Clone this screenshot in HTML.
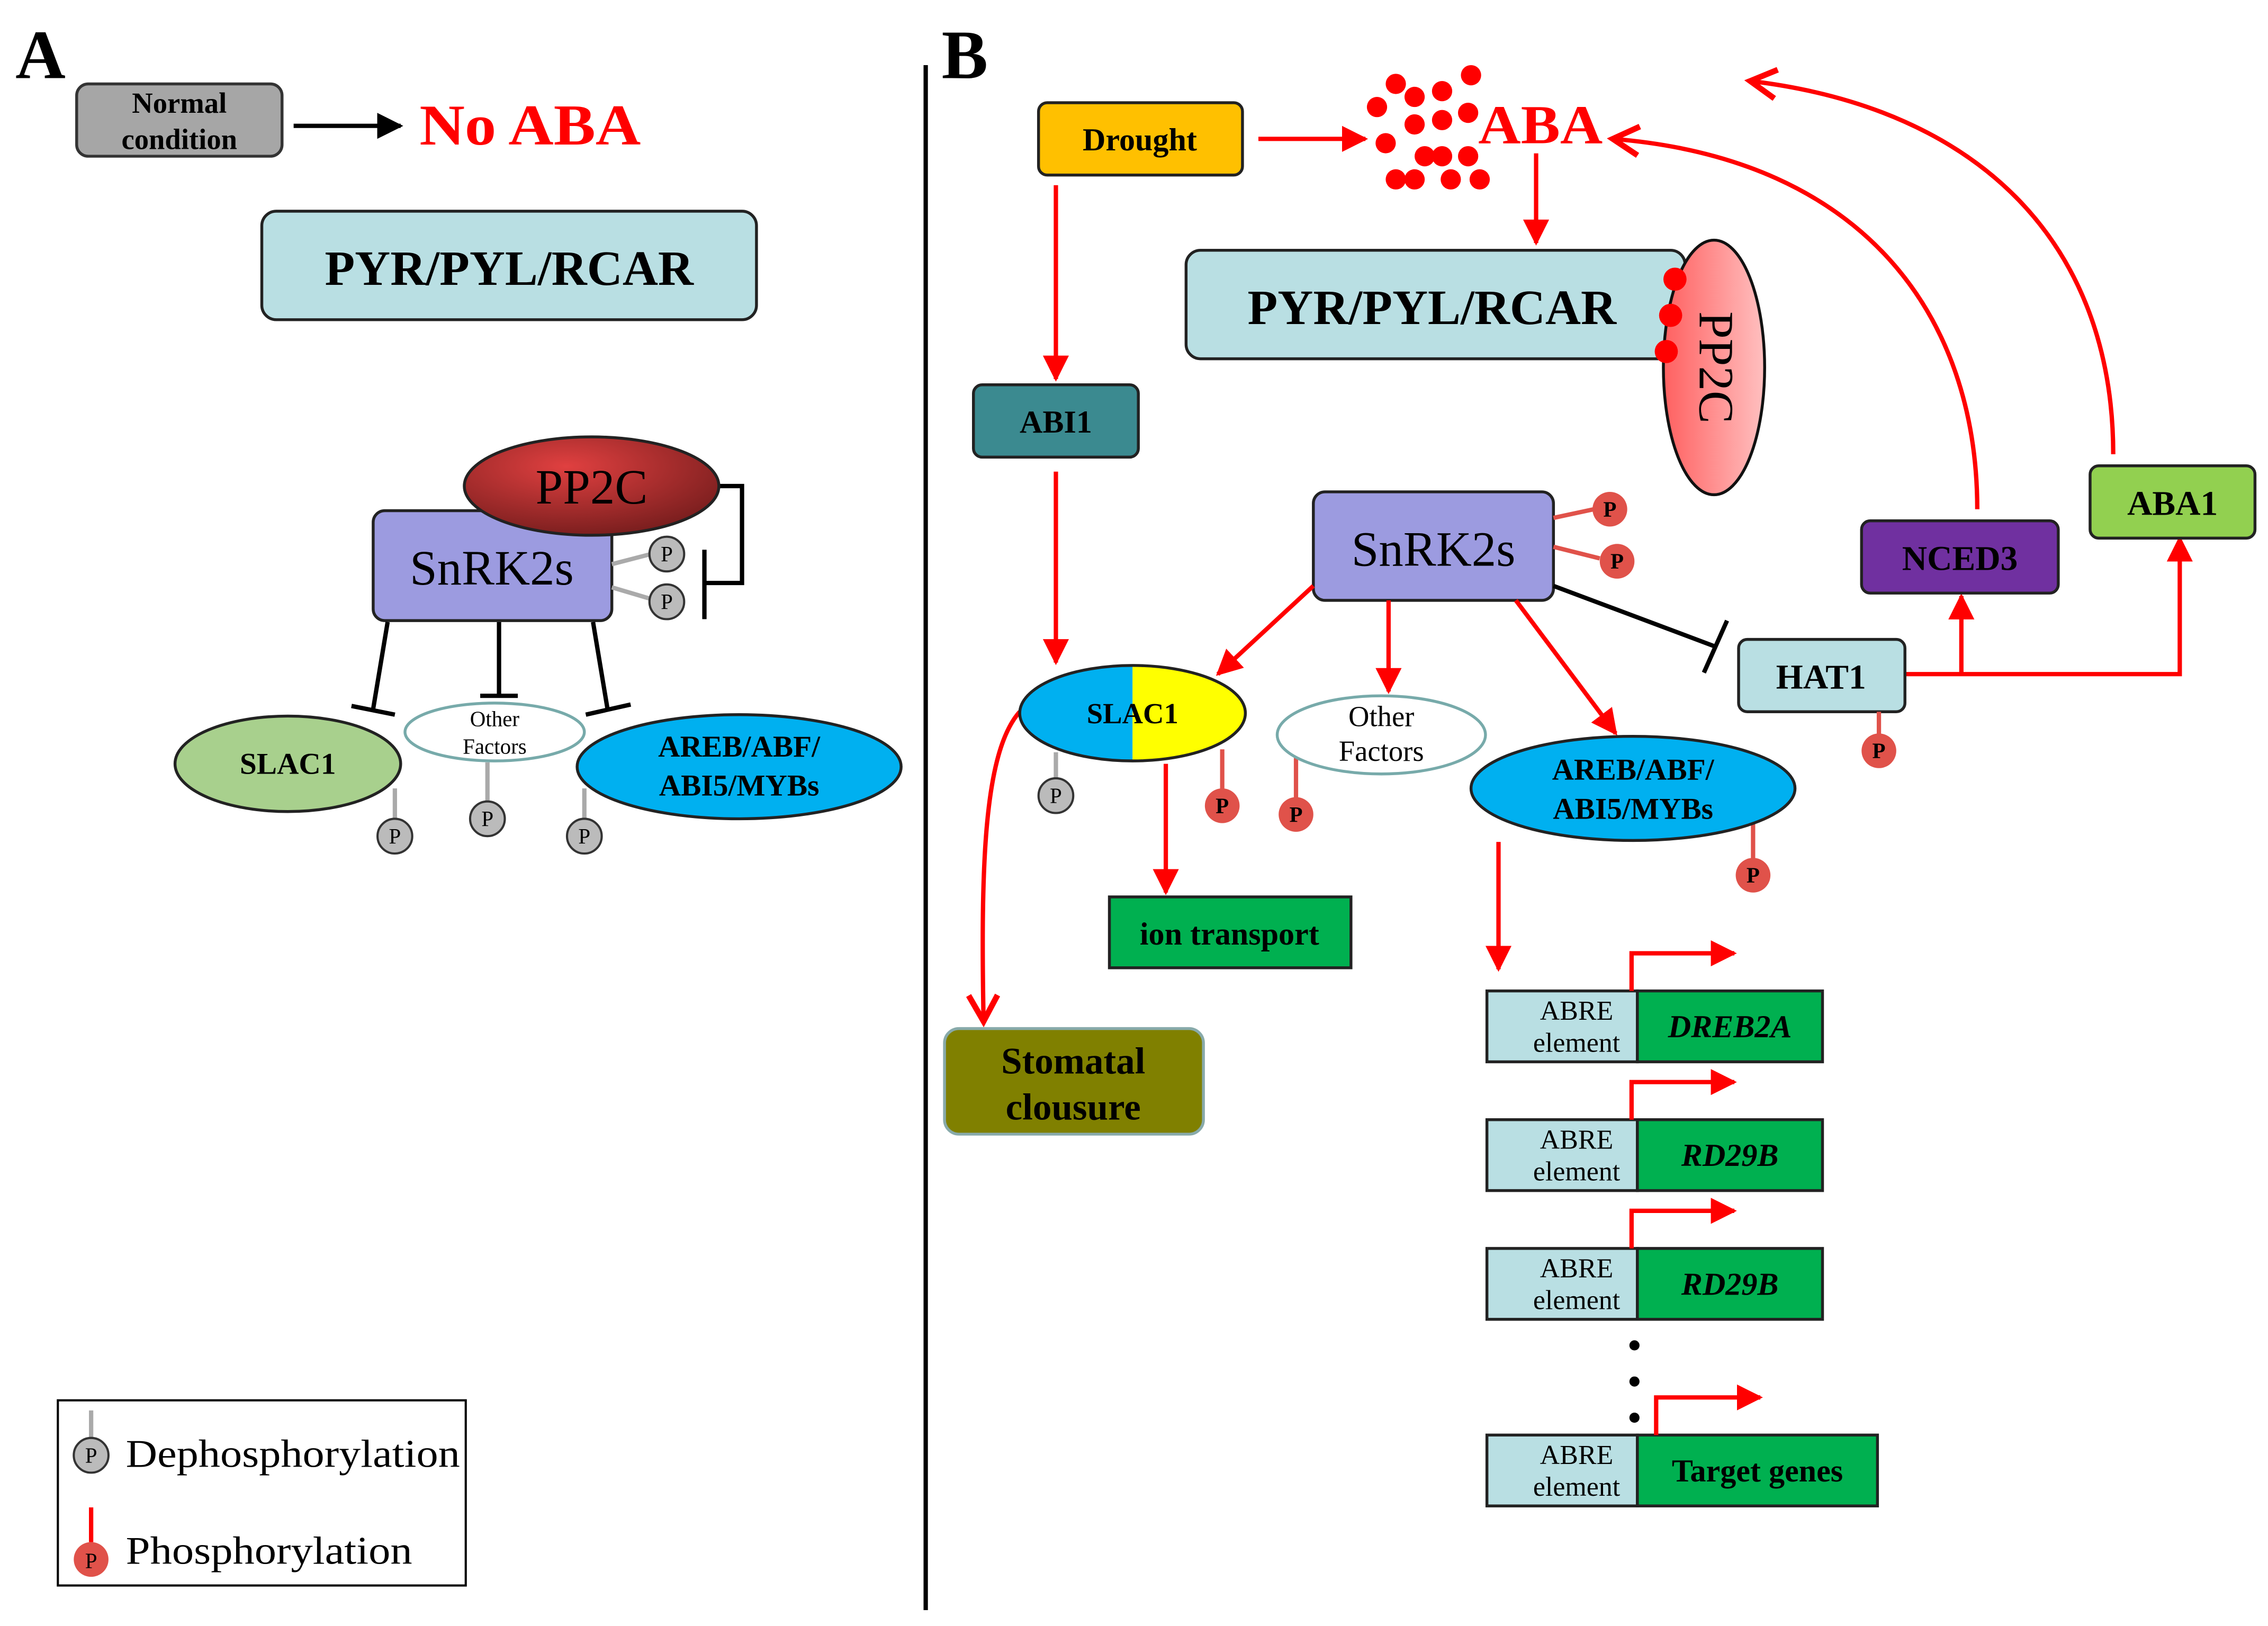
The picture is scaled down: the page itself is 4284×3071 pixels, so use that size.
<!DOCTYPE html>
<html><head><meta charset="utf-8"><style>html,body{margin:0;padding:0;background:#fff}svg{display:block}text{font-family:"Liberation Serif",serif}</style></head>
<body>
<svg width="4284" height="3071" viewBox="0 0 1568 1124" preserveAspectRatio="none" xmlns="http://www.w3.org/2000/svg">
<defs>
<marker id="ar" viewBox="0 0 10 10" refX="9" refY="5" markerWidth="6" markerHeight="6" orient="auto"><path d="M0,0 L10,5 L0,10 z" fill="red"/></marker>
<marker id="arl" viewBox="0 0 12 12" refX="10" refY="6" markerWidth="8" markerHeight="8" orient="auto"><path d="M1,1 L10,6 L1,11" fill="none" stroke="red" stroke-width="2"/></marker>
<marker id="ak" viewBox="0 0 10 10" refX="9" refY="5" markerWidth="6" markerHeight="6" orient="auto"><path d="M0,0 L10,5 L0,10 z" fill="#000"/></marker>
<radialGradient id="pp2cA" cx="0.4" cy="0.3" r="0.8"><stop offset="0" stop-color="#e04040"/><stop offset="1" stop-color="#6e1a1a"/></radialGradient>
<linearGradient id="pp2cB" x1="0" x2="1"><stop offset="0" stop-color="#ff6060"/><stop offset="1" stop-color="#ffc0c0"/></linearGradient>
</defs>
<g font-weight="bold" text-anchor="middle">
<!-- Panel A -->
<text x="28" y="54" font-size="48" text-anchor="middle">A</text>
<rect x="53" y="58" width="142" height="50" rx="8" fill="#a6a6a6" stroke="#333" stroke-width="2"/>
<text x="124" y="78" font-size="20">Normal</text><text x="124" y="103" font-size="20">condition</text>
<line x1="203" y1="87" x2="277" y2="87" stroke="#000" stroke-width="3" marker-end="url(#ak)"/>
<text x="290" y="100" font-size="40" fill="red" text-anchor="start" textLength="153" lengthAdjust="spacingAndGlyphs">No ABA</text>
<rect x="181" y="146" width="342" height="75" rx="10" fill="#b9dfe3" stroke="#222" stroke-width="2"/>
<text x="352" y="197" font-size="34">PYR/PYL/RCAR</text>
<polyline points="497,336 513,336 513,403 487,403" fill="none" stroke="#000" stroke-width="3"/>
<line x1="487" y1="380" x2="487" y2="428" stroke="#000" stroke-width="3"/>
<rect x="258" y="353" width="165" height="76" rx="8" fill="#9c9be0" stroke="#222" stroke-width="2"/>
<ellipse cx="409" cy="336" rx="88" ry="34" fill="url(#pp2cA)" stroke="#222" stroke-width="2"/>
<text x="409" y="348" font-size="34" font-weight="normal">PP2C</text>
<text x="340" y="404" font-size="34" font-weight="normal">SnRK2s</text>
<g stroke="#aaa" stroke-width="3"><line x1="423" y1="390" x2="450" y2="383"/><line x1="423" y1="406" x2="450" y2="414"/>
<line x1="273" y1="545" x2="273" y2="567"/><line x1="337" y1="527" x2="337" y2="555"/><line x1="404" y1="545" x2="404" y2="567"/></g>
<g stroke="#000" stroke-width="3">
<line x1="268" y1="430" x2="258" y2="490"/><line x1="243" y1="488" x2="273" y2="494"/>
<line x1="345" y1="430" x2="345" y2="481"/><line x1="332" y1="481" x2="358" y2="481"/>
<line x1="410" y1="430" x2="420" y2="490"/><line x1="405" y1="494" x2="436" y2="487"/></g>
<ellipse cx="199" cy="528" rx="78" ry="33" fill="#a8d08d" stroke="#222" stroke-width="2"/>
<text x="199" y="535" font-size="21">SLAC1</text>
<ellipse cx="342" cy="506" rx="62" ry="20" fill="#fff" stroke="#7aa" stroke-width="2"/>
<text x="342" y="502" font-size="15" font-weight="normal">Other</text><text x="342" y="521" font-size="15" font-weight="normal">Factors</text>
<ellipse cx="511" cy="530" rx="112" ry="36" fill="#00b0f0" stroke="#222" stroke-width="2"/>
<text x="511" y="523" font-size="21">AREB/ABF/</text><text x="511" y="550" font-size="21">ABI5/MYBs</text>
<g fill="#bbb" stroke="#333" stroke-width="1.5">
<circle cx="461" cy="383" r="12"/><circle cx="461" cy="416" r="12"/><circle cx="273" cy="578" r="12"/><circle cx="337" cy="566" r="12"/><circle cx="404" cy="578" r="12"/></g>
<g font-size="15" font-weight="normal"><text x="461" y="388">P</text><text x="461" y="421">P</text><text x="273" y="583">P</text><text x="337" y="571">P</text><text x="404" y="583">P</text></g>
<rect x="40" y="968" width="282" height="128" fill="#fff" stroke="#000" stroke-width="1.5"/>
<line x1="63" y1="975" x2="63" y2="994" stroke="#aaa" stroke-width="3"/>
<circle cx="63" cy="1006" r="12" fill="#bbb" stroke="#333" stroke-width="1.5"/><text x="63" y="1011" font-size="15" font-weight="normal">P</text>
<text x="87" y="1014" font-size="27" font-weight="normal" text-anchor="start" textLength="231" lengthAdjust="spacingAndGlyphs">Dephosphorylation</text>
<line x1="63" y1="1042" x2="63" y2="1066" stroke="red" stroke-width="3"/>
<circle cx="63" cy="1078" r="12" fill="#e0524a"/><text x="63" y="1084" font-size="15" font-weight="normal">P</text>
<text x="87" y="1081" font-size="27" font-weight="normal" text-anchor="start" textLength="198" lengthAdjust="spacingAndGlyphs">Phosphorylation</text>
<line x1="640" y1="45" x2="640" y2="1113" stroke="#000" stroke-width="3"/>
<!-- Panel B -->
<text x="667" y="54" font-size="48">B</text>
<rect x="718" y="71" width="141" height="50" rx="6" fill="#ffc000" stroke="#222" stroke-width="2"/>
<text x="788" y="104" font-size="22">Drought</text>
<line x1="870" y1="96" x2="944" y2="96" stroke="red" stroke-width="3" marker-end="url(#ar)"/>
<g fill="red"><circle cx="965" cy="58" r="7"/><circle cx="1017" cy="52" r="7"/><circle cx="978" cy="67" r="7"/><circle cx="997" cy="63" r="7"/><circle cx="952" cy="74" r="7"/><circle cx="1015" cy="78" r="7"/><circle cx="978" cy="86" r="7"/><circle cx="997" cy="83" r="7"/><circle cx="958" cy="99" r="7"/><circle cx="985" cy="108" r="7"/><circle cx="997" cy="108" r="7"/><circle cx="1015" cy="108" r="7"/><circle cx="965" cy="124" r="7"/><circle cx="978" cy="124" r="7"/><circle cx="1003" cy="124" r="7"/><circle cx="1023" cy="124" r="7"/></g>
<text x="1022" y="99" font-size="38" fill="red" font-weight="bold" text-anchor="start" textLength="86" lengthAdjust="spacingAndGlyphs">ABA</text>
<line x1="1062" y1="106" x2="1062" y2="168" stroke="red" stroke-width="3" marker-end="url(#ar)"/>
<rect x="820" y="173" width="345" height="75" rx="10" fill="#b9dfe3" stroke="#222" stroke-width="2"/>
<text x="990" y="224" font-size="34">PYR/PYL/RCAR</text>
<ellipse cx="1185" cy="254" rx="35" ry="88" fill="url(#pp2cB)" stroke="#111" stroke-width="2"/>
<text transform="translate(1175,254) rotate(90)" font-size="34" font-weight="normal">PP2C</text>
<g fill="red"><circle cx="1158" cy="193" r="8"/><circle cx="1155" cy="218" r="8"/><circle cx="1152" cy="243" r="8"/></g>
<line x1="730" y1="128" x2="730" y2="262" stroke="red" stroke-width="3" marker-end="url(#ar)"/>
<rect x="673" y="266" width="114" height="50" rx="6" fill="#3b8a90" stroke="#222" stroke-width="2"/>
<text x="730" y="299" font-size="22">ABI1</text>
<line x1="730" y1="326" x2="730" y2="458" stroke="red" stroke-width="3" marker-end="url(#ar)"/>
<!-- feedback curves -->
<path d="M1367,352 C1367,220 1290,110 1115,96" fill="none" stroke="red" stroke-width="3" marker-end="url(#arl)"/>
<path d="M1461,314 C1461,170 1370,75 1210,56" fill="none" stroke="red" stroke-width="3" marker-end="url(#arl)"/>
<rect x="908" y="340" width="166" height="75" rx="8" fill="#9c9be0" stroke="#222" stroke-width="2"/>
<text x="991" y="391" font-size="34" font-weight="normal">SnRK2s</text>
<g stroke="#e0524a" stroke-width="3"><line x1="1074" y1="358" x2="1102" y2="352"/><line x1="1074" y1="378" x2="1106" y2="386"/></g>
<g stroke="red" stroke-width="3">
<line x1="908" y1="405" x2="842" y2="466" marker-end="url(#ar)"/>
<line x1="960" y1="415" x2="960" y2="478" marker-end="url(#ar)"/>
<line x1="1048" y1="415" x2="1117" y2="507" marker-end="url(#ar)"/>
<line x1="806" y1="528" x2="806" y2="617" marker-end="url(#ar)"/>
<line x1="1036" y1="582" x2="1036" y2="670" marker-end="url(#ar)"/>
<path d="M705,492 C680,520 678,600 680,706" fill="none" marker-end="url(#arl)"/>
<polyline points="1317,466 1507,466 1507,372" fill="none" marker-end="url(#ar)"/>
<line x1="1356" y1="466" x2="1356" y2="412" marker-end="url(#ar)"/>
</g>
<line x1="1074" y1="405" x2="1186" y2="447" stroke="#000" stroke-width="3"/>
<line x1="1178" y1="465" x2="1194" y2="429" stroke="#000" stroke-width="3"/>
<rect x="1287" y="360" width="136" height="50" rx="6" fill="#7030a0" stroke="#222" stroke-width="2"/>
<text x="1355" y="394" font-size="24">NCED3</text>
<rect x="1445" y="322" width="114" height="50" rx="6" fill="#92d050" stroke="#222" stroke-width="2"/>
<text x="1502" y="356" font-size="24">ABA1</text>
<rect x="1202" y="442" width="115" height="50" rx="6" fill="#b9dfe3" stroke="#222" stroke-width="2"/>
<text x="1259" y="476" font-size="24">HAT1</text>
<g stroke="#e0524a" stroke-width="3"><line x1="1299" y1="492" x2="1299" y2="508"/><line x1="845" y1="518" x2="845" y2="546"/><line x1="896" y1="524" x2="896" y2="552"/><line x1="1212" y1="568" x2="1212" y2="594"/></g>
<line x1="730" y1="520" x2="730" y2="539" stroke="#aaa" stroke-width="3"/>
<path d="M783,460 A78,33 0 0 0 783,526 Z" fill="#00b0f0"/>
<path d="M783,460 A78,33 0 0 1 783,526 Z" fill="#ffff00"/>
<ellipse cx="783" cy="493" rx="78" ry="33" fill="none" stroke="#222" stroke-width="2"/>
<text x="783" y="500" font-size="20">SLAC1</text>
<ellipse cx="955" cy="508" rx="72" ry="27" fill="#fff" stroke="#7aa" stroke-width="2"/>
<text x="955" y="502" font-size="20" font-weight="normal">Other</text><text x="955" y="526" font-size="20" font-weight="normal">Factors</text>
<ellipse cx="1129" cy="545" rx="112" ry="36" fill="#00b0f0" stroke="#222" stroke-width="2"/>
<text x="1129" y="539" font-size="21">AREB/ABF/</text><text x="1129" y="566" font-size="21">ABI5/MYBs</text>
<g fill="#e0524a"><circle cx="1113" cy="352" r="12"/><circle cx="1118" cy="388" r="12"/><circle cx="1299" cy="519" r="12"/><circle cx="845" cy="557" r="12"/><circle cx="896" cy="563" r="12"/><circle cx="1212" cy="605" r="12"/></g>
<circle cx="730" cy="550" r="12" fill="#bbb" stroke="#333" stroke-width="1.5"/>
<g font-size="15"><text x="1113" y="357">P</text><text x="1118" y="393">P</text><text x="1299" y="524">P</text><text x="845" y="562">P</text><text x="896" y="568">P</text><text x="1212" y="610">P</text><text x="730" y="555" font-weight="normal">P</text></g>
<rect x="767" y="620" width="167" height="49" fill="#00b050" stroke="#222" stroke-width="2"/>
<text x="850" y="653" font-size="22">ion transport</text>
<rect x="653" y="711" width="179" height="73" rx="10" fill="#808000" stroke="#8aa" stroke-width="2"/>
<text x="742" y="742" font-size="26">Stomatal</text><text x="742" y="774" font-size="26">clousure</text>
<!-- ABRE rows -->
<g font-weight="normal">
<rect x="1028" y="685" width="104" height="49" fill="#b9dfe3" stroke="#222" stroke-width="2"/><rect x="1132" y="685" width="128" height="49" fill="#00b050" stroke="#222" stroke-width="2"/>
<text x="1090" y="705" font-size="19">ABRE</text><text x="1090" y="727" font-size="19">element</text>
<rect x="1028" y="774" width="104" height="49" fill="#b9dfe3" stroke="#222" stroke-width="2"/><rect x="1132" y="774" width="128" height="49" fill="#00b050" stroke="#222" stroke-width="2"/>
<text x="1090" y="794" font-size="19">ABRE</text><text x="1090" y="816" font-size="19">element</text>
<rect x="1028" y="863" width="104" height="49" fill="#b9dfe3" stroke="#222" stroke-width="2"/><rect x="1132" y="863" width="128" height="49" fill="#00b050" stroke="#222" stroke-width="2"/>
<text x="1090" y="883" font-size="19">ABRE</text><text x="1090" y="905" font-size="19">element</text>
<rect x="1028" y="992" width="104" height="49" fill="#b9dfe3" stroke="#222" stroke-width="2"/><rect x="1132" y="992" width="166" height="49" fill="#00b050" stroke="#222" stroke-width="2"/>
<text x="1090" y="1012" font-size="19">ABRE</text><text x="1090" y="1034" font-size="19">element</text>
</g>
<g font-size="22" font-style="italic"><text x="1196" y="717">DREB2A</text><text x="1196" y="806">RD29B</text><text x="1196" y="895">RD29B</text></g>
<text x="1215" y="1024" font-size="22">Target genes</text>
<g stroke="red" stroke-width="3" fill="none">
<polyline points="1128,685 1128,659 1199,659" marker-end="url(#ar)"/>
<polyline points="1128,774 1128,748 1199,748" marker-end="url(#ar)"/>
<polyline points="1128,863 1128,837 1199,837" marker-end="url(#ar)"/>
<polyline points="1145,992 1145,966 1217,966" marker-end="url(#ar)"/>
</g>
<g fill="#000"><circle cx="1130" cy="930" r="3.5"/><circle cx="1130" cy="955" r="3.5"/><circle cx="1130" cy="980" r="3.5"/></g>
</g>
</svg>
</body></html>
